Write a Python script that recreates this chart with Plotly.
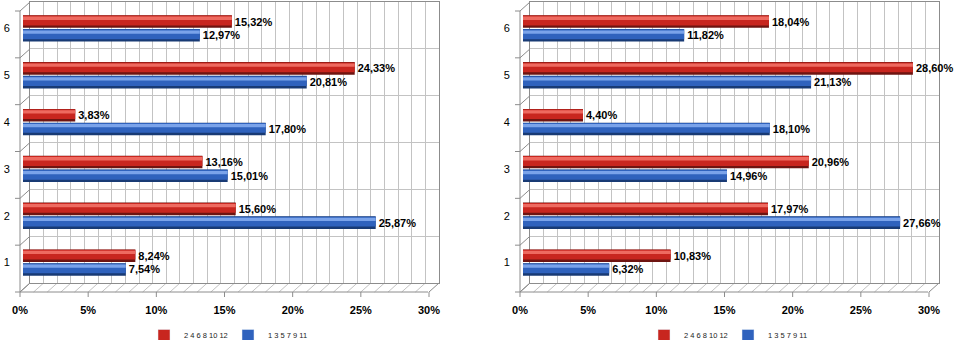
import plotly.graph_objects as go

# ---------------- data ----------------
categories = [1, 2, 3, 4, 5, 6]
category_labels = ["1", "2", "3", "4", "5", "6"]
series_names = ["2 4 6 8 10 12", "1 3 5 7 9 11"]
left_red = [8.24, 15.60, 13.16, 3.83, 24.33, 15.32]
left_blue = [7.54, 25.87, 15.01, 17.80, 20.81, 12.97]
right_red = [10.83, 17.97, 20.96, 4.40, 28.60, 18.04]
right_blue = [6.32, 27.66, 14.96, 18.10, 21.13, 11.82]
x_tick_values = [0, 5, 10, 15, 20, 25, 30]
x_tick_labels = ["0%", "5%", "10%", "15%", "20%", "25%", "30%"]

# ---------------- layout helpers ----------------
W, H = 957, 340
FONT = "Liberation Sans, Arial, sans-serif"
GRID = "#c3c3c3"
EDGE = "#8c8c8c"


def px(p):
    return p / W


def py(p):
    return 1 - p / H


RED = dict(dark="#6e1411", main="#c8261f", light="#ee6a60")
BLUE = dict(dark="#183a74", main="#2f62bd", light="#7aa3ea")

fig = go.Figure()

panels = [
    dict(red=left_red, blue=left_blue, ox=0, legend="legend"),
    dict(red=right_red, blue=right_blue, ox=500, legend="legend2"),
]

XMAX = 30
BACK_X0, BACK_X1 = 30, 439
FRONT_X0, FRONT_X1 = 20, 428
BACK_TOP, BACK_BOT = 2, 283
FRONT_BOT = 292
BAR_X0, BAR_X1 = 23, 432
BAR_TOP, BAR_BOT = 5, 286

shapes = []
layout_axes = {}

# empty traces so the back-wall subplots are drawn
for i in range(len(panels)):
    fig.add_trace(go.Scatter(
        x=[None], y=[None], mode="markers", showlegend=False, hoverinfo="skip",
        xaxis="x" if i == 0 else f"x{i + 1}", yaxis="y" if i == 0 else f"y{i + 1}",
    ))

for i, p in enumerate(panels):
    ox = p["ox"]
    wall_x = f"xaxis{'' if i == 0 else i + 1}"
    wall_y = f"yaxis{'' if i == 0 else i + 1}"
    bi = i + 3
    bar_xref, bar_yref = f"x{bi}", f"y{bi}"
    wall_xref = "x" if i == 0 else f"x{i + 1}"
    wall_yref = "y" if i == 0 else f"y{i + 1}"

    # back wall axes (gridlines)
    layout_axes[wall_x] = dict(
        domain=[px(BACK_X0 + ox), px(BACK_X1 + ox)], range=[0, XMAX],
        anchor=wall_yref, tickmode="array",
        tickvals=x_tick_values, ticktext=x_tick_labels,
        showgrid=True, gridcolor=GRID, gridwidth=1,
        minor=dict(dtick=1, showgrid=True, gridcolor=GRID, gridwidth=1),
        ticks="outside", ticklen=17, tickcolor="rgba(0,0,0,0)",
        ticklabelshift=-10, zeroline=False,
        showline=True, linecolor=EDGE, mirror=True,
        tickfont=dict(family=FONT, size=11, color="#000", weight="bold"),
        fixedrange=True,
    )
    layout_axes[wall_y] = dict(
        domain=[py(BACK_BOT), py(BACK_TOP)], range=[0.5, 6.5],
        anchor=wall_xref, tickvals=[c - 0.5 for c in categories] + [6.5],
        showticklabels=False, showgrid=True, gridcolor=GRID,
        zeroline=False, showline=True, linecolor=EDGE, mirror=True,
        ticks="", fixedrange=True,
    )
    # bar axes
    layout_axes[f"xaxis{bi}"] = dict(
        domain=[px(BAR_X0 + ox), px(BAR_X1 + ox)], range=[0, XMAX],
        anchor=bar_yref, visible=False, fixedrange=True,
    )
    layout_axes[f"yaxis{bi}"] = dict(
        domain=[py(BAR_BOT), py(BAR_TOP)], range=[0.5, 6.5],
        anchor=bar_xref, tickvals=categories, ticktext=category_labels,
        showgrid=False, zeroline=False, showline=False,
        ticks="outside", ticklen=10, tickcolor="rgba(0,0,0,0)",
        tickfont=dict(family=FONT, size=11, color="#000"),
        fixedrange=True,
    )

    # bars: red above, blue below within each category
    for name, vals, col, center in [
        (series_names[0], p["red"], RED, 0.147),
        (series_names[1], p["blue"], BLUE, -0.147),
    ]:
        layers = [
            (0.27, 0.0, col["dark"], True),
            (0.21, 0.022, col["main"], False),
            (0.07, 0.07, col["light"], False),
        ]
        for w, dy, c, with_text in layers:
            fig.add_trace(go.Bar(
                y=categories, x=vals, orientation="h",
                width=w, offset=center + dy - w / 2,
                marker=dict(color=c, line=dict(width=0)),
                xaxis=bar_xref, yaxis=bar_yref,
                name=name, showlegend=False,
                text=vals if with_text else None,
                texttemplate="%{x:.2f}%" if with_text else None,
                textposition="outside" if with_text else None,
                textfont=dict(family=FONT, size=11, color="#000", weight="bold"),
                cliponaxis=False, hoverinfo="skip",
            ))
        # legend entry
        fig.add_trace(go.Bar(
            y=[None], x=[None], orientation="h", name=name,
            marker=dict(color=col["main"]), xaxis=bar_xref, yaxis=bar_yref,
            legend=p["legend"], showlegend=True,
        ))

    # floor and left wall decorations
    s = (BACK_X1 - BACK_X0) / XMAX
    for k in range(XMAX + 1):
        shapes.append(dict(type="line", xref="paper", yref="paper", layer="below",
                           x0=px(BACK_X0 + ox + k * s), y0=py(BACK_BOT),
                           x1=px(FRONT_X0 + ox + k * s), y1=py(FRONT_BOT),
                           line=dict(color=EDGE if k in (0, XMAX) else GRID, width=1)))
    shapes.append(dict(type="line", xref="paper", yref="paper", layer="below",
                       x0=px(FRONT_X0 + ox), y0=py(FRONT_BOT),
                       x1=px(FRONT_X1 + ox), y1=py(FRONT_BOT),
                       line=dict(color=EDGE, width=1)))
    for t in x_tick_values:
        shapes.append(dict(type="line", xref="paper", yref="paper", layer="below",
                           x0=px(FRONT_X0 + ox + t * s), y0=py(FRONT_BOT),
                           x1=px(FRONT_X0 + ox + t * s), y1=py(FRONT_BOT + 5),
                           line=dict(color=EDGE, width=1)))
    shapes.append(dict(type="line", xref="paper", yref="paper", layer="below",
                       x0=px(FRONT_X0 + ox), y0=py(BACK_TOP + 9),
                       x1=px(FRONT_X0 + ox), y1=py(FRONT_BOT),
                       line=dict(color=EDGE, width=1)))
    step = (BACK_BOT - BACK_TOP) / len(categories)
    for j in range(len(categories) + 1):
        yb = BACK_TOP + j * step
        shapes.append(dict(type="line", xref="paper", yref="paper", layer="below",
                           x0=px(BACK_X0 + ox), y0=py(yb),
                           x1=px(FRONT_X0 + ox), y1=py(yb + 9),
                           line=dict(color=EDGE, width=1)))
        shapes.append(dict(type="line", xref="paper", yref="paper", layer="below",
                           x0=px(FRONT_X0 + ox - 5), y0=py(yb + 9),
                           x1=px(FRONT_X0 + ox), y1=py(yb + 9),
                           line=dict(color=EDGE, width=1)))

legend_common = dict(
    orientation="h", xanchor="left", yanchor="bottom",
    font=dict(family=FONT, size=7.5, color="#222"),
    bgcolor="rgba(0,0,0,0)", itemwidth=30, entrywidth=39,
    itemclick=False, itemdoubleclick=False,
)

fig.update_layout(
    width=W, height=H,
    margin=dict(l=0, r=0, t=0, b=0, pad=0, autoexpand=False),
    paper_bgcolor="white", plot_bgcolor="rgba(0,0,0,0)",
    barmode="overlay", separators=", ",
    shapes=shapes,
    legend=dict(x=px(144), y=-10 / H, **legend_common),
    legend2=dict(x=px(644), y=-10 / H, **legend_common),
    **layout_axes,
)

fig.write_html("out.html")
